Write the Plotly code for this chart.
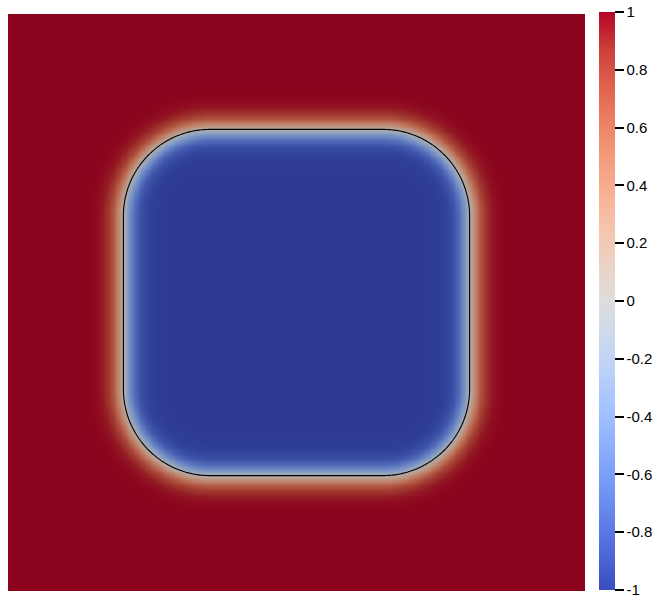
import numpy as np
import plotly.graph_objects as go

# Rounded-square interface (domain is the unit square)
BOX_X = [0.2, 0.8]
BOX_Y = [0.2, 0.8]
CORNER_RADIUS = 0.15
INTERFACE_WIDTH = 0.022
GRID_N = 240

# Colour bar ticks
TICK_VALUES = [1, 0.8, 0.6, 0.4, 0.2, 0, -0.2, -0.4, -0.6, -0.8, -1]
TICK_LABELS = ["1", "0.8", "0.6", "0.4", "0.2", "0", "-0.2", "-0.4", "-0.6", "-0.8", "-1"]

# ParaView "Cool to Warm" control points
COOL_WARM = [
    (0.0, (59, 76, 192)), (0.0625, (77, 104, 215)), (0.125, (98, 130, 234)),
    (0.1875, (119, 154, 247)), (0.25, (141, 176, 254)), (0.3125, (163, 194, 255)),
    (0.375, (184, 208, 249)), (0.4375, (204, 217, 238)), (0.5, (221, 221, 221)),
    (0.5625, (236, 211, 197)), (0.625, (245, 196, 173)), (0.6875, (247, 177, 148)),
    (0.75, (244, 154, 123)), (0.8125, (236, 127, 99)), (0.875, (222, 96, 77)),
    (0.9375, (203, 62, 56)), (1.0, (180, 4, 38)),
]
SHADE = 0.77  # the lit surface renders darker than the bar

W, H = 657, 598


def _scale(k=1.0):
    return [[p, "rgb(%d,%d,%d)" % tuple(int(round(c * k)) for c in rgb)] for p, rgb in COOL_WARM]


# signed distance to the rounded square -> tanh phase profile
xs = (np.arange(GRID_N) + 0.5) / GRID_N
X, Y = np.meshgrid(xs, xs)
cx, cy = np.mean(BOX_X), np.mean(BOX_Y)
hx, hy = (BOX_X[1] - BOX_X[0]) / 2, (BOX_Y[1] - BOX_Y[0]) / 2
qx = np.abs(X - cx) - (hx - CORNER_RADIUS)
qy = np.abs(Y - cy) - (hy - CORNER_RADIUS)
dist = (np.hypot(np.maximum(qx, 0), np.maximum(qy, 0))
        + np.minimum(np.maximum(qx, qy), 0) - CORNER_RADIUS)
phase = np.tanh(dist / INTERFACE_WIDTH)

fig = go.Figure()
fig.add_trace(go.Heatmap(
    x=xs, y=xs, z=phase, zmin=-1, zmax=1,
    colorscale=_scale(SHADE), showscale=False, zsmooth="best", hoverinfo="skip",
))
fig.add_trace(go.Contour(
    x=xs, y=xs, z=phase,
    contours=dict(start=0, end=0, size=1, coloring="none"),
    line=dict(color="black", width=1.1, smoothing=1),
    showscale=False, hoverinfo="skip",
))
# colour bar only
fig.add_trace(go.Scatter(
    x=[None], y=[None], mode="markers", showlegend=False,
    marker=dict(
        color=[0], cmin=-1, cmax=1, colorscale=_scale(), showscale=True,
        colorbar=dict(
            x=599 / W, xanchor="left", xref="container",
            y=1 - 12 / H, yanchor="top", yref="container",
            len=578 / H, lenmode="fraction", thickness=16,
            xpad=0, ypad=0, outlinewidth=0,
            ticks="outside", ticklen=9, tickwidth=1.5, tickcolor="black",
            tickvals=TICK_VALUES, ticktext=TICK_LABELS, ticklabeloverflow="allow",
            tickfont=dict(family="Liberation Sans, Arial, sans-serif", size=15, color="black"),
        ),
    ),
))

fig.update_layout(
    width=W, height=H,
    margin=dict(l=0, r=0, t=0, b=0, autoexpand=False),
    paper_bgcolor="white", plot_bgcolor="white",
    showlegend=False,
    xaxis=dict(domain=[8 / W, 585 / W], range=[0, 1], visible=False),
    yaxis=dict(domain=[7 / H, 584 / H], range=[0, 1], visible=False),
)

# drop the browser's default 8px body margin so the figure sits at the page corner
fig.write_html("out.html", config={"displayModeBar": False},
               post_script="document.body.style.margin='0';")
